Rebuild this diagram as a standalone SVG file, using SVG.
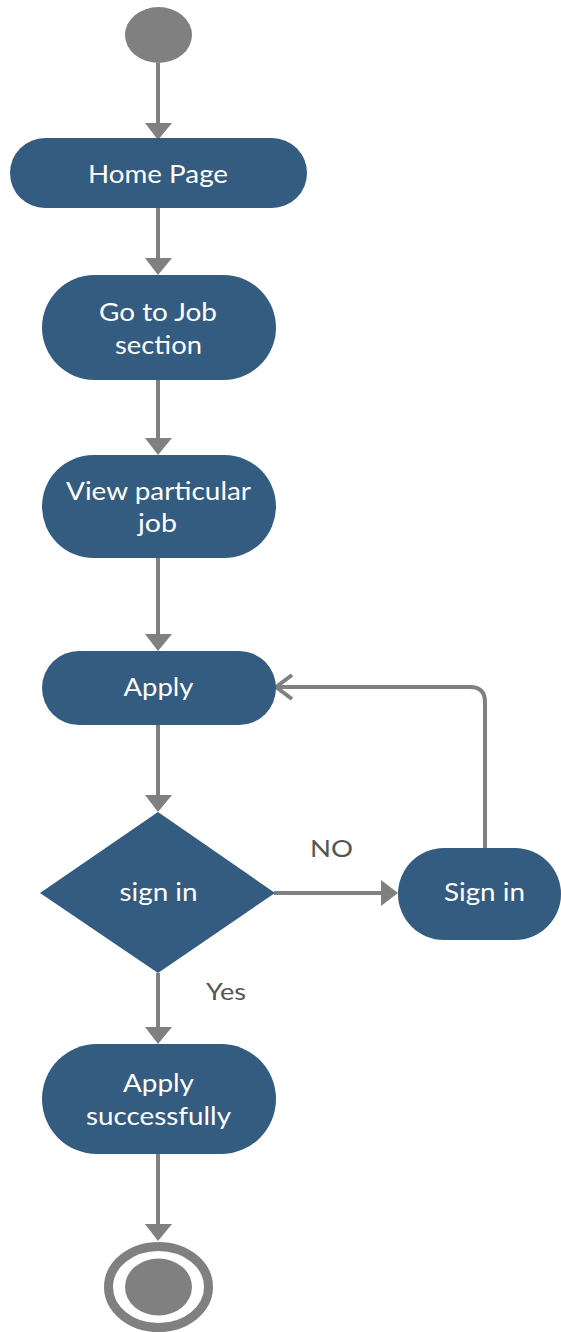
<svg xmlns="http://www.w3.org/2000/svg" width="561" height="1332" viewBox="0 0 561 1332">
<style>
.node{fill:#345b80;}
.lbl{font-family:Lato,"Noto Sans","Liberation Sans",sans-serif;font-size:25px;fill:#ffffff;text-anchor:middle;}
.edge{font-family:Lato,"Noto Sans","Liberation Sans",sans-serif;font-size:24px;fill:#555555;text-anchor:middle;}
.conn{stroke:#808080;stroke-width:4;fill:none;}
.head{fill:#808080;}
</style>
<rect width="561" height="1332" fill="#ffffff"/>
<g id="connectors">
<line class="conn" x1="158" y1="63" x2="158" y2="124"/>
<polygon class="head" points="145,123 172,123 158,140"/>
<line class="conn" x1="158" y1="208" x2="158" y2="259"/>
<polygon class="head" points="145,258 172,258 158,275"/>
<line class="conn" x1="158" y1="380" x2="158" y2="439"/>
<polygon class="head" points="145,438 172,438 158,455"/>
<line class="conn" x1="158" y1="558" x2="158" y2="635"/>
<polygon class="head" points="145,634 172,634 158,651"/>
<line class="conn" x1="158" y1="725" x2="158" y2="796"/>
<polygon class="head" points="145,795 172,795 158,812"/>
<line class="conn" x1="274" y1="893" x2="382" y2="893"/>
<polygon class="head" points="381,880 381,906 398,893"/>
<path class="conn" d="M485,848 V702 Q485,687 470,687 H276" stroke-width="3.5"/>
<polyline class="conn" points="292,675 276,687 292,699" stroke-width="3.5"/>
<line class="conn" x1="158" y1="973" x2="158" y2="1028"/>
<polygon class="head" points="145,1027 172,1027 158,1044"/>
<line class="conn" x1="158" y1="1154" x2="158" y2="1225"/>
<polygon class="head" points="145,1224 172,1224 158,1241"/>
<text class="edge" x="331.5" y="857" textLength="43" lengthAdjust="spacingAndGlyphs">NO</text>
<text class="edge" x="226" y="1000" textLength="40" lengthAdjust="spacingAndGlyphs">Yes</text>
</g>
<g id="start">
<ellipse cx="158.5" cy="35" rx="33.5" ry="28" fill="#808080"/>
</g>
<g id="home">
<rect class="node" x="10" y="138" width="297" height="70" rx="35"/>
<text class="lbl" x="158" y="183" textLength="140" lengthAdjust="spacingAndGlyphs">Home Page</text>
</g>
<g id="jobsection">
<rect class="node" x="42" y="275" width="234" height="105" rx="52.5"/>
<text class="lbl" x="158" y="321" textLength="118" lengthAdjust="spacingAndGlyphs">Go to Job</text>
<text class="lbl" x="158.5" y="354" textLength="87" lengthAdjust="spacingAndGlyphs">section</text>
</g>
<g id="viewjob">
<rect class="node" x="42" y="455" width="234" height="103" rx="51.5"/>
<text class="lbl" x="158.5" y="500" textLength="185" lengthAdjust="spacingAndGlyphs">View particular</text>
<text class="lbl" x="157.5" y="532" textLength="39" lengthAdjust="spacingAndGlyphs">job</text>
</g>
<g id="apply">
<rect class="node" x="42" y="651" width="234" height="74" rx="37"/>
<text class="lbl" x="158.5" y="696" textLength="70" lengthAdjust="spacingAndGlyphs">Apply</text>
</g>
<g id="decision">
<polygon class="node" points="158,812 275,893 158,973 40,893"/>
<text class="lbl" x="158.5" y="901" textLength="78" lengthAdjust="spacingAndGlyphs">sign in</text>
</g>
<g id="signin">
<rect class="node" x="398" y="848" width="163" height="92" rx="46"/>
<text class="lbl" x="484.5" y="901" textLength="81" lengthAdjust="spacingAndGlyphs">Sign in</text>
</g>
<g id="success">
<rect class="node" x="42" y="1044" width="234" height="110" rx="55"/>
<text class="lbl" x="158.5" y="1092" textLength="71" lengthAdjust="spacingAndGlyphs">Apply</text>
<text class="lbl" x="158.5" y="1125" textLength="145" lengthAdjust="spacingAndGlyphs">successfully</text>
</g>
<g id="end">
<ellipse cx="158.5" cy="1287" rx="50" ry="40.5" fill="none" stroke="#808080" stroke-width="9"/>
<ellipse cx="158.5" cy="1287" rx="33.5" ry="28.5" fill="#808080"/>
</g>
</svg>
